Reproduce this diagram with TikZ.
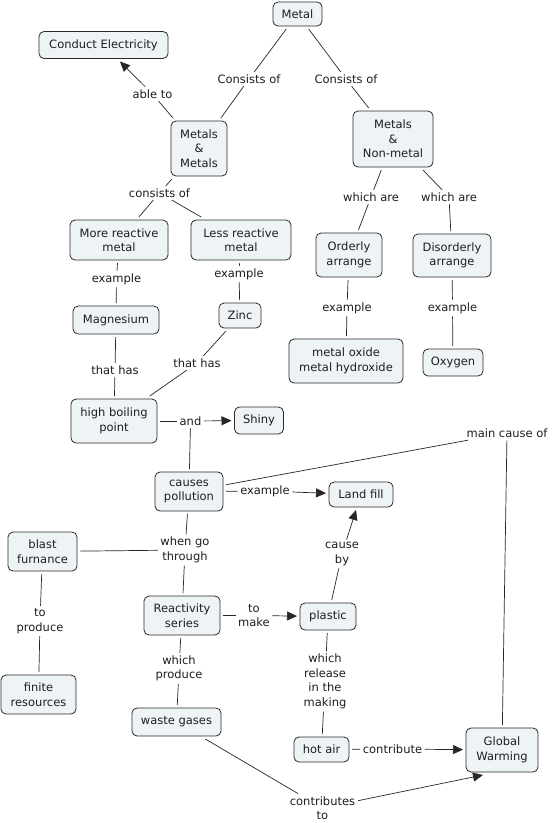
\documentclass[tikz,border=0pt]{standalone}
\usepackage{fontspec}
\setmainfont{DejaVu Sans}
\usetikzlibrary{arrows.meta,calc}
\definecolor{boxfill}{HTML}{EEF3F6}
\definecolor{boxline}{HTML}{2B2B2B}
\definecolor{txt}{HTML}{1E1E1E}
\newcommand\cmfont{\fontsize{11.5}{14.5}\selectfont}
\begin{document}
\begin{tikzpicture}[x=1pt,y=-1pt,
  concept/.style={draw=boxline, fill=boxfill, rounded corners=5pt, line width=0.8pt,
    align=center, inner sep=0pt, outer sep=3pt, font=\cmfont, text=txt},
  lbl/.style={align=center, inner sep=2.5pt, font=\cmfont, text=txt},
  link/.style={line width=0.7pt, draw=black!85},
  arr/.style={link, -{Triangle[length=10pt,width=9pt]}}]
\fill[white] (0,0) rectangle (552,823);
\useasboundingbox (0,0) rectangle (552,823);

% concepts
\node[concept, minimum width=49pt, minimum height=24pt] (metal) at (297.5,14) {Metal};
\node[concept, minimum width=129pt, minimum height=27pt] (ce) at (103.5,45) {Conduct Electricity};
\node[concept, minimum width=56pt, minimum height=55pt] (mm) at (199,148.5) {Metals\\\&\\Metals};
\node[concept, minimum width=80pt, minimum height=56pt] (mnm) at (393,139) {Metals\\\&\\Non-metal};
\node[concept, minimum width=98pt, minimum height=40pt] (mr) at (119,240) {More reactive\\metal};
\node[concept, minimum width=100pt, minimum height=40pt] (lr) at (241,240) {Less reactive\\metal};
\node[concept, minimum width=66pt, minimum height=44pt] (ord) at (349,255) {Orderly\\arrange};
\node[concept, minimum width=78pt, minimum height=43pt] (dis) at (452,255.5) {Disorderly\\arrange};
\node[concept, minimum width=86pt, minimum height=28pt] (mg) at (116,320) {Magnesium};
\node[concept, minimum width=42pt, minimum height=25pt] (zn) at (240,315.5) {Zinc};
\node[concept, minimum width=114pt, minimum height=44pt] (mo) at (346,361) {metal oxide\\metal hydroxide};
\node[concept, minimum width=60pt, minimum height=27pt] (ox) at (453,362.5) {Oxygen};
\node[concept, minimum width=86pt, minimum height=44pt] (hbp) at (114,421) {high boiling\\point};
\node[concept, minimum width=49pt, minimum height=27pt] (shiny) at (259,420.5) {Shiny};
\node[concept, minimum width=68pt, minimum height=39pt] (cp) at (189,491.5) {causes\\pollution};
\node[concept, minimum width=64pt, minimum height=25pt] (lf) at (361,494.5) {Land fill};
\node[concept, minimum width=69pt, minimum height=39pt] (bf) at (42.5,551.5) {blast\\furnance};
\node[concept, minimum width=76pt, minimum height=39pt] (rs) at (182,615.5) {Reactivity\\series};
\node[concept, minimum width=56pt, minimum height=27pt] (pl) at (328,616.5) {plastic};
\node[concept, minimum width=75pt, minimum height=39pt] (fr) at (38.5,694.5) {finite\\resources};
\node[concept, minimum width=89pt, minimum height=28pt] (wgs) at (176.5,722) {waste gases};
\node[concept, minimum width=55pt, minimum height=25pt] (ha) at (321.5,749.5) {hot air};
\node[concept, minimum width=72pt, minimum height=44pt] (gw) at (502,750) {Global\\Warming};

% linking phrases
\node[lbl] (co1) at (249,79) {Consists of};
\node[lbl] (co2) at (346,79) {Consists of};
\node[lbl] (able) at (152.5,94) {able to};
\node[lbl] (cons) at (159.5,193) {consists of};
\node[lbl] (wa1) at (371,197) {which are};
\node[lbl] (wa2) at (449,197) {which are};
\node[lbl] (ex1) at (116.5,279) {example};
\node[lbl] (ex2) at (239,274) {example};
\node[lbl] (ex3) at (347,308) {example};
\node[lbl] (ex4) at (452.5,308) {example};
\node[lbl] (th1) at (115,370) {that has};
\node[lbl] (th2) at (197,363) {that has};
\node[lbl] (and) at (190.5,421) {and};
\node[lbl] (mc) at (507,433) {main cause of};
\node[lbl] (ex5) at (265,491) {example};
\node[lbl] (wg) at (185,550) {when go\\through};
\node[lbl] (tp) at (40,621) {to\\produce};
\node[lbl] (tm) at (254,615.5) {to\\make};
\node[lbl] (cb) at (342,554) {cause\\by};
\node[lbl] (wp) at (179,668.5) {which\\produce};
\node[lbl] (wr) at (325,681.5) {which\\release\\in the\\making};
\node[lbl] (ctb) at (392.5,749) {contribute};
\node[lbl] (ct2) at (322.5,808) {contributes\\to};

% connectors
\draw[link] (metal) -- (co1);  \draw[link] (co1) -- (mm);
\draw[link] (metal) -- (co2);  \draw[link] (co2) -- (mnm);
\draw[link] (mm) -- (able);    \draw[arr] (able) -- (ce);
\draw[link] (mm) -- (cons);    \draw[link] (cons) -- (mr);  \draw[link] (cons) -- (lr);
\draw[link] (mnm) -- (wa1);    \draw[link] (wa1) -- (ord);
\draw[link] (mnm) -- (wa2);    \draw[link] (wa2) -- (dis);
\draw[link] (mr) -- (ex1);     \draw[link] (ex1) -- (mg);
\draw[link] (lr) -- (ex2);     \draw[link] (ex2) -- (zn);
\draw[link] (ord) -- (ex3);    \draw[link] (ex3) -- (mo);
\draw[link] (dis) -- (ex4);    \draw[link] (ex4) -- (ox);
\draw[link] (mg) -- (th1);     \draw[link] (th1) -- (hbp);
\draw[link] (zn) -- (th2);     \draw[link] (th2) -- (hbp);
\draw[link] (hbp) -- (and);    \draw[arr] (and) -- (shiny);  \draw[link] (and) -- (cp);
\draw[link] (cp) -- (mc);      \draw[link] (mc) -- (gw);
\draw[link] (cp) -- (ex5);     \draw[arr] (ex5) -- (lf);
\draw[link] (cp) -- (wg);      \draw[link] (wg) -- (bf);  \draw[link] (wg) -- (rs);
\draw[link] (bf) -- (tp);      \draw[link] (tp) -- (fr);
\draw[link] (rs) -- (tm);      \draw[arr] (tm) -- (pl);
\draw[link] (pl) -- (cb);      \draw[arr] (cb) -- (lf);
\draw[link] (rs) -- (wp);      \draw[link] (wp) -- (wgs);
\draw[link] (pl) -- (wr);      \draw[link] (wr) -- (ha);
\draw[link] (ha) -- (ctb);     \draw[arr] (ctb) -- (gw);
\draw[link] (wgs) -- (ct2);    \draw[arr] (ct2) -- ([xshift=-19pt]gw.south);
\end{tikzpicture}
\end{document}
